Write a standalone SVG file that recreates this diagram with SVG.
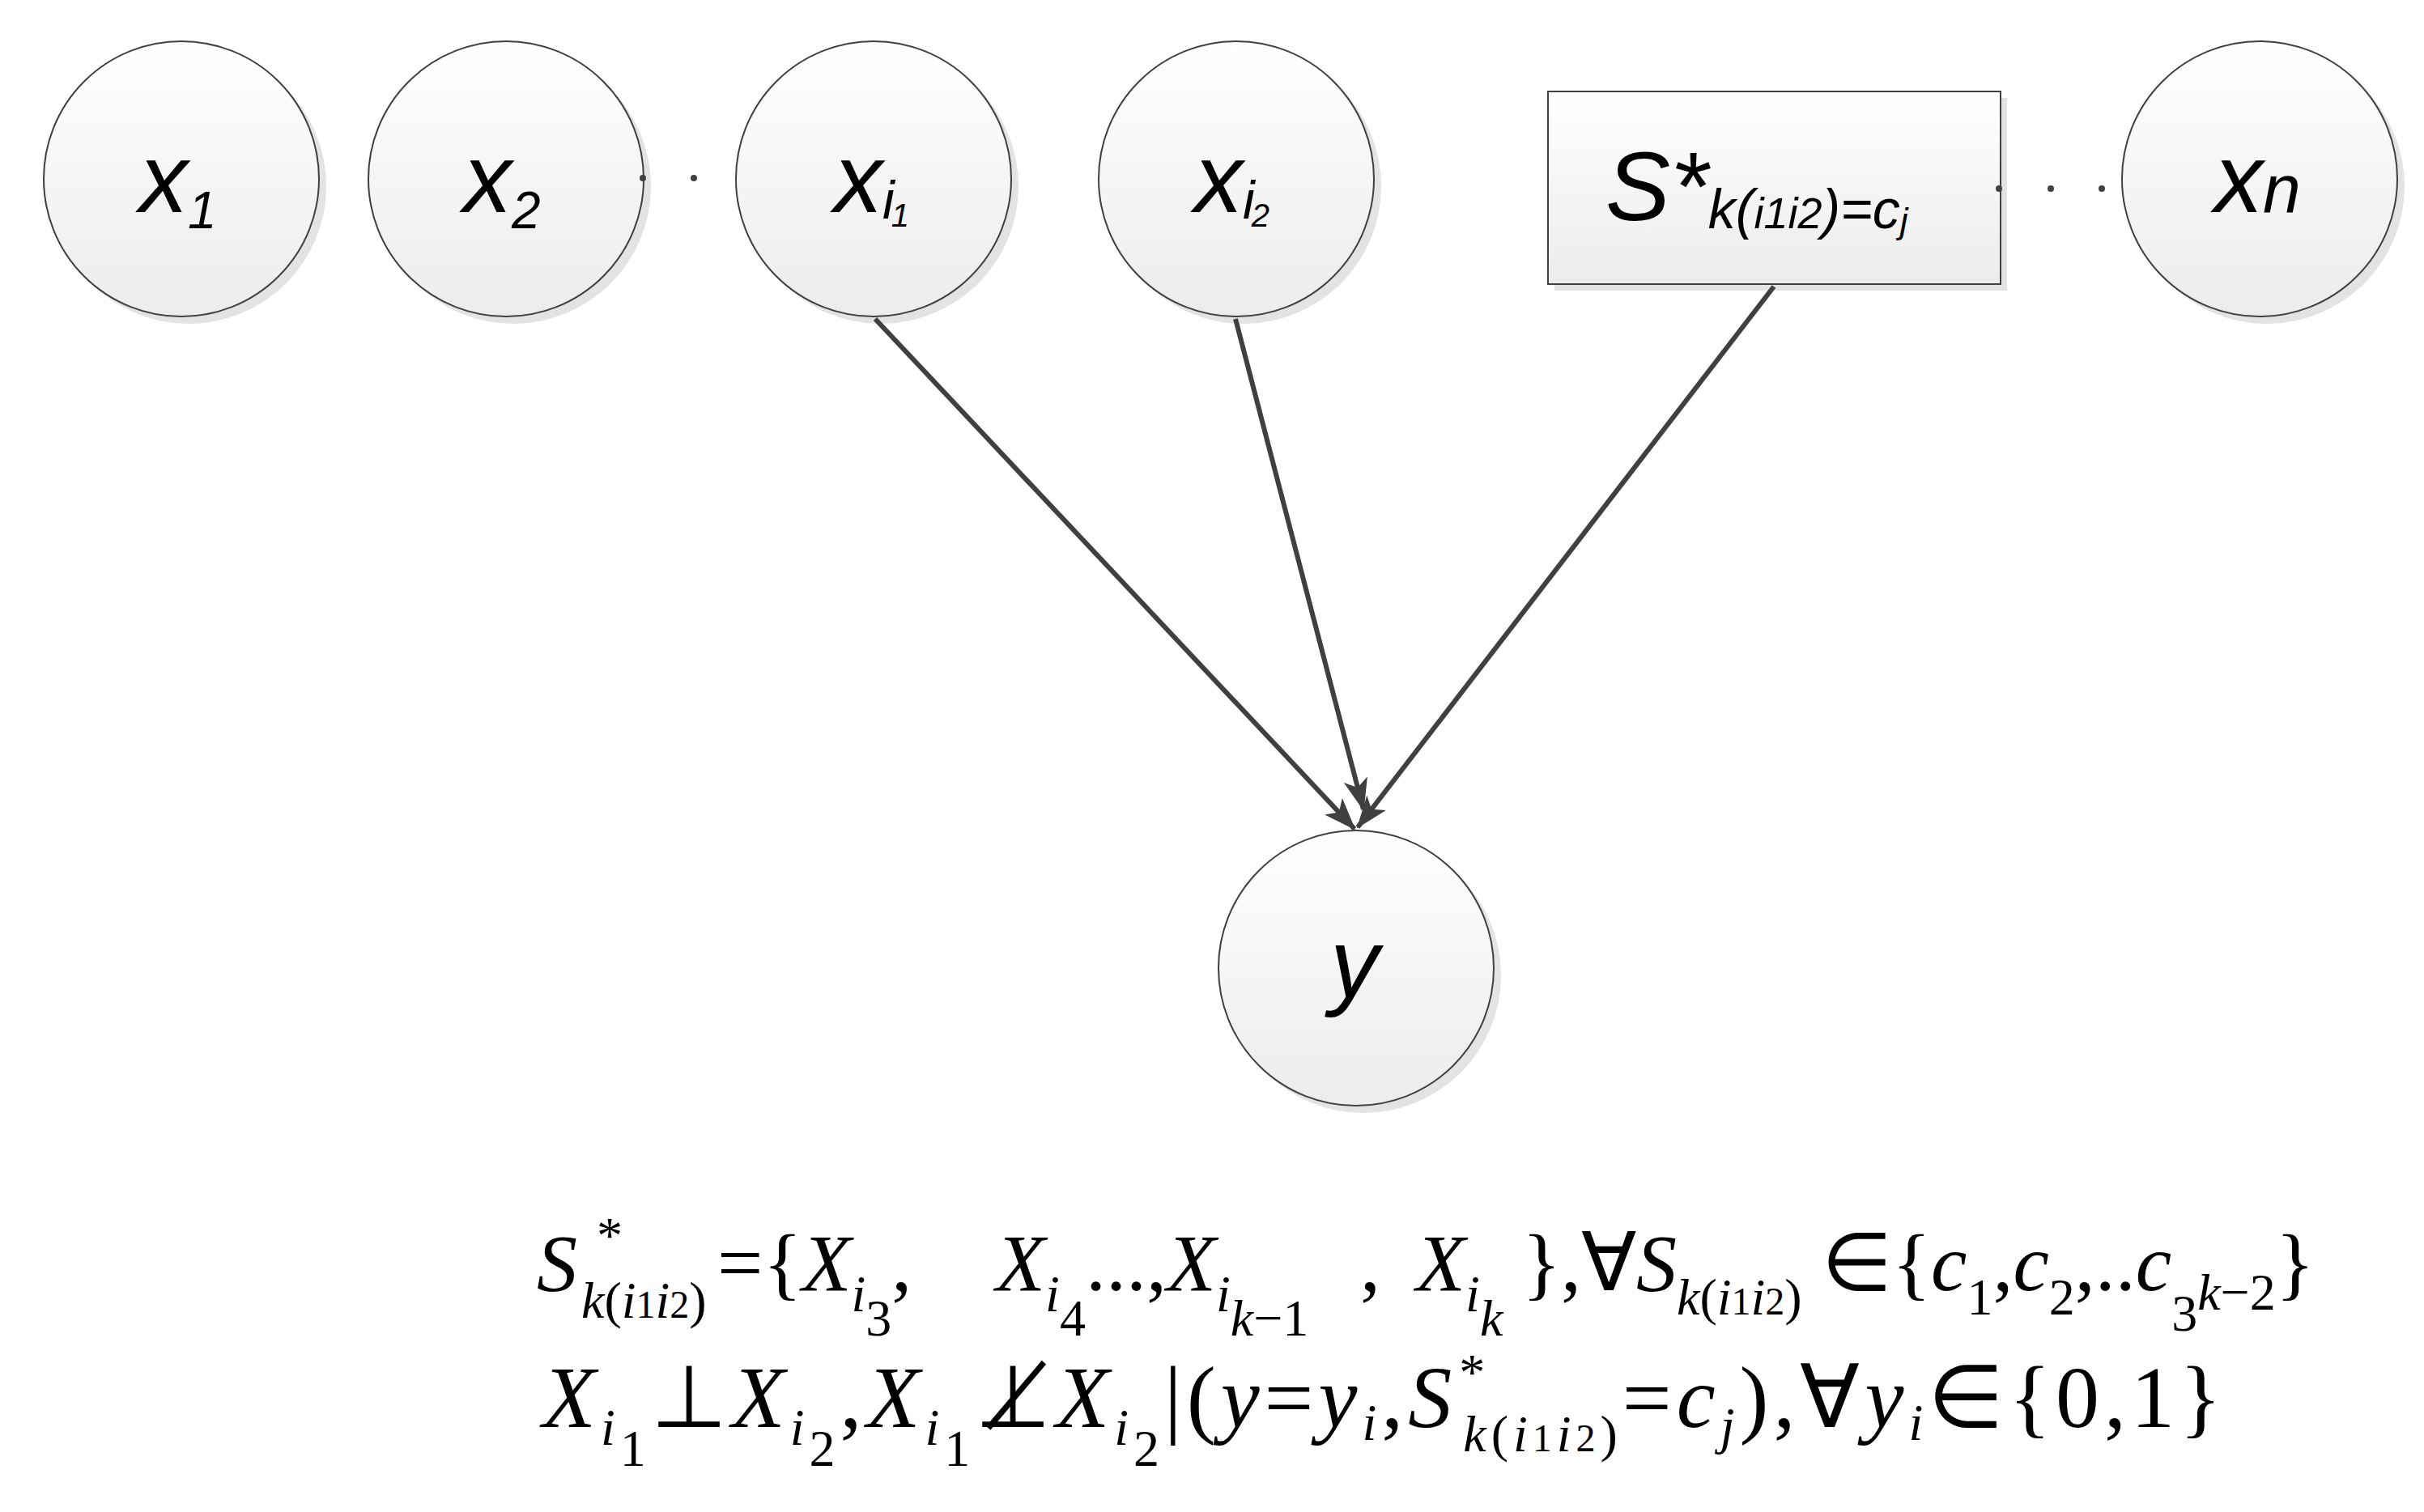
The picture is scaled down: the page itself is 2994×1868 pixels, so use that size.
<svg xmlns="http://www.w3.org/2000/svg" width="2994" height="1868" viewBox="0 0 2994 1868">
<style>
.n{fill:url(#g);stroke:#404040;stroke-width:2}
.sh{fill:#e3e3e3}
.lb{font-family:"Liberation Sans",Arial,sans-serif;font-style:italic;fill:#000}
.e{stroke:#404040;stroke-width:6;fill:none;marker-end:url(#a)}
.m{font-family:"Liberation Serif","Times New Roman",serif;font-style:italic;font-size:100px;fill:#000}
.m2{font-size:108px;letter-spacing:6px}
.u{font-style:normal}
.s{font-size:64px}
.ss{font-size:48px}
.dot{fill:#404040}
</style>
<defs>
<linearGradient id="g" x1="0" y1="0" x2="0" y2="1"><stop offset="0" stop-color="#ffffff"/><stop offset="1" stop-color="#ececec"/></linearGradient>
<marker id="a" viewBox="0 0 40 30" refX="38" refY="15" markerWidth="40" markerHeight="30" markerUnits="userSpaceOnUse" orient="auto"><path d="M0,0 L40,15 L0,30 L10,15 Z" fill="#404040"/></marker>
</defs>
<rect width="2994" height="1868" fill="#fff"/>
<g id="x1"><circle class="sh" cx="233" cy="230" r="170"/><circle class="n" cx="224" cy="221" r="170"/><text class="lb" x="172" y="262" font-size="120">x<tspan font-size="64" dy="20">1</tspan></text></g>
<g id="x2"><circle class="sh" cx="634" cy="230" r="170"/><circle class="n" cx="625" cy="221" r="170"/><text class="lb" x="572" y="262" font-size="120">x<tspan font-size="64" dy="20">2</tspan></text></g>
<g id="xi1"><circle class="sh" cx="1088" cy="230" r="170"/><circle class="n" cx="1079" cy="221" r="170"/><text class="lb" x="1030" y="262" font-size="120">x<tspan font-size="66" dy="8">i</tspan><tspan font-size="40" dx="-4" dy="10">1</tspan></text></g>
<g id="xi2"><circle class="sh" cx="1536" cy="230" r="170"/><circle class="n" cx="1527" cy="221" r="170"/><text class="lb" x="1475" y="262" font-size="120">x<tspan font-size="66" dy="8">i</tspan><tspan font-size="40" dx="-4" dy="10">2</tspan></text></g>
<g id="s"><rect class="sh" x="1920" y="121" width="559" height="238"/><rect class="n" x="1912" y="113" width="559" height="238"/><text class="lb" x="1983" y="272" font-size="120">S*<tspan font-size="68" dy="10">k(</tspan><tspan font-size="54">i1i2</tspan><tspan font-size="68">)=c</tspan><tspan font-size="44" dy="6">j</tspan></text></g>
<g id="xn"><circle class="sh" cx="2800" cy="230" r="170"/><circle class="n" cx="2791" cy="221" r="170"/><text class="lb" x="2735" y="262" font-size="120">x<tspan font-size="84">n</tspan></text></g>
<g id="y"><circle class="sh" cx="1684" cy="1205" r="170"/><circle class="n" cx="1675" cy="1196" r="170"/><text class="lb" x="1643" y="1232" font-size="120">y</text></g>
<g id="dots"><circle class="dot" cx="794" cy="220" r="4"/><circle class="dot" cx="857" cy="220" r="4"/><circle class="dot" cx="2469" cy="233" r="4"/><circle class="dot" cx="2533" cy="233" r="4"/><circle class="dot" cx="2596" cy="233" r="4"/></g>
<g id="edges">
<line class="e" x1="1081" y1="394" x2="1673" y2="1024"/>
<line class="e" x1="1526" y1="394" x2="1684" y2="1000"/>
<line class="e" x1="2191" y1="354" x2="1677" y2="1022"/>
</g>
<g id="formula">
<text class="m" x="663" y="1594">S<tspan class="s" x="734" y="1548">*</tspan><tspan class="s" x="718" y="1628">k<tspan class="u">(</tspan>i<tspan class="ss u">1</tspan>i<tspan class="ss u">2</tspan><tspan class="u">)</tspan></tspan><tspan class="u" x="886" y="1594">={</tspan>X<tspan class="s" dy="26">i</tspan><tspan class="s u" dy="30">3</tspan><tspan class="u" dy="-56">,</tspan><tspan x="1230">X</tspan><tspan class="s" dy="26">i</tspan><tspan class="s u" dy="30">4</tspan><tspan class="u" dy="-56">...,</tspan>X<tspan class="s" dy="26">i</tspan><tspan class="s" dy="30">k<tspan class="u">−1</tspan></tspan><tspan class="u" x="1680" dy="-56">,</tspan><tspan x="1749">X</tspan><tspan class="s" dy="26">i</tspan><tspan class="s" dy="30">k</tspan><tspan class="u" x="1880" dy="-56">},∀</tspan>S<tspan class="s" dy="30">k<tspan class="u">(</tspan>i<tspan class="ss u">1</tspan>i<tspan class="ss u">2</tspan><tspan class="u">)</tspan></tspan><tspan class="u" dy="-30" x="2250">∈{</tspan>c<tspan class="s u" dy="30">1</tspan><tspan class="u" dy="-30">,</tspan>c<tspan class="s u" dy="30">2</tspan><tspan class="u" dy="-30">,..</tspan>c<tspan class="s u" dy="50">3</tspan><tspan class="s" dy="-26">k<tspan class="u">−2</tspan></tspan><tspan class="u" dy="-24">}</tspan></text>
<text class="m m2" x="670" y="1763">X<tspan class="s" dy="22">i</tspan><tspan class="s u" dy="26">1</tspan><tspan class="u" dy="-48">⊥</tspan>X<tspan class="s" dy="22">i</tspan><tspan class="s u" dy="26">2</tspan><tspan class="u" dy="-48">,</tspan>X<tspan class="s" dy="22">i</tspan><tspan class="s u" dy="26">1</tspan><tspan class="u" dy="-48">⊥̸</tspan>X<tspan class="s" dy="22">i</tspan><tspan class="s u" dy="26">2</tspan><tspan class="u" dy="-48">|(</tspan>y<tspan class="u">=</tspan>y<tspan class="s" dy="16">i</tspan><tspan class="u" dy="-16">,</tspan>S<tspan class="s" dy="-46">*</tspan><tspan class="s" dx="-30" dy="76">k<tspan class="u">(</tspan>i<tspan class="ss u">1</tspan>i<tspan class="ss u">2</tspan><tspan class="u">)</tspan></tspan><tspan class="u" dy="-30">=</tspan>c<tspan class="s" dy="20">j</tspan><tspan class="u" dy="-20">),∀</tspan>y<tspan class="s" dy="16">i</tspan><tspan class="u" dy="-16">∈{0,1}</tspan></text>
</g>
</svg>
